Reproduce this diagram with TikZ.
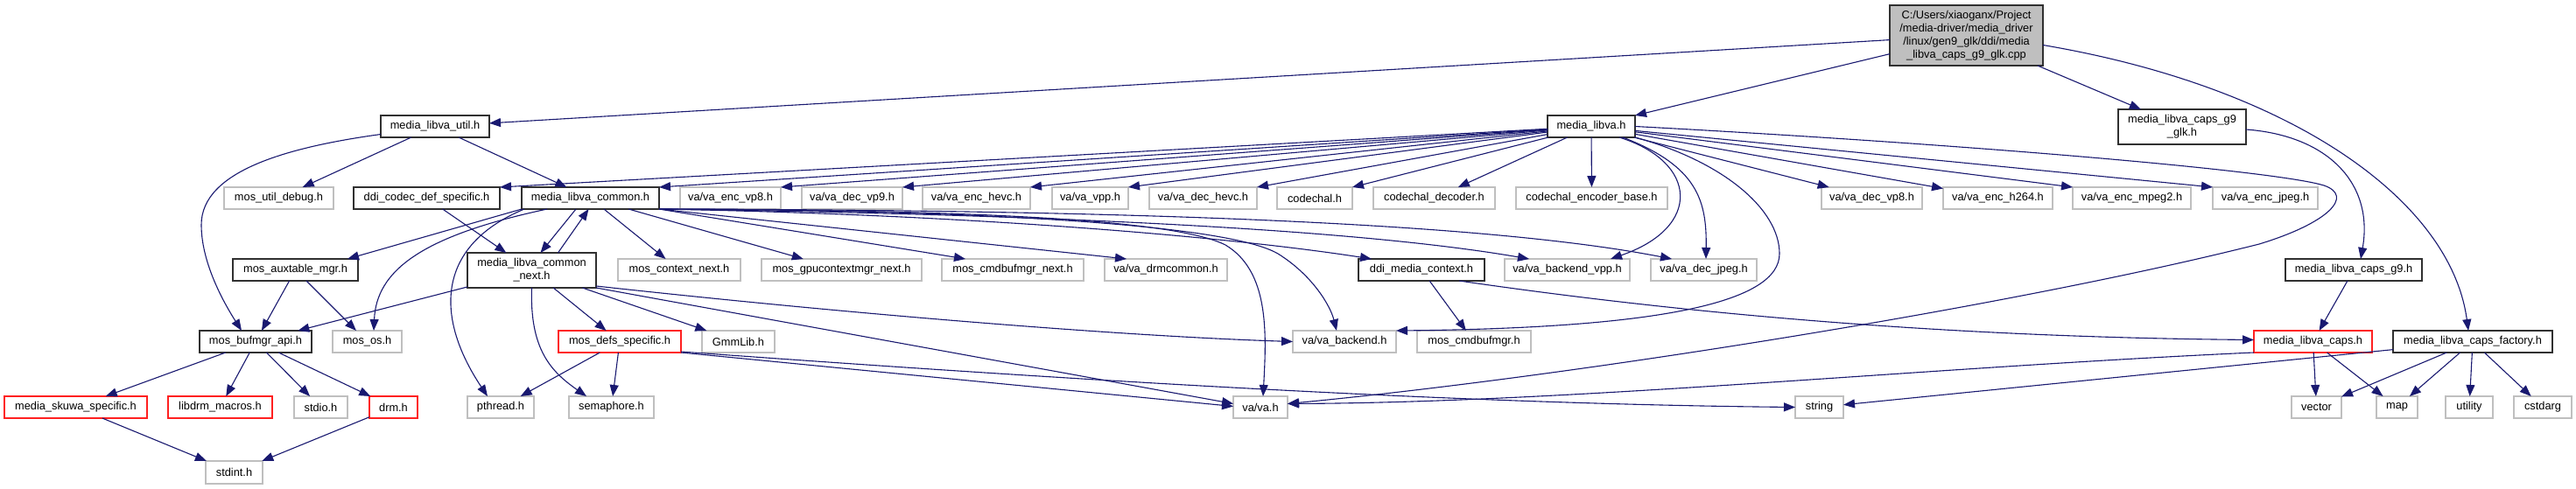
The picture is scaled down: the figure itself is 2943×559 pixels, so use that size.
\documentclass[tikz,border=0pt]{standalone}
\usepackage{fontspec}
\usetikzlibrary{arrows.meta}
\newfontfamily\gfont{Liberation Sans}
\definecolor{edgecol}{HTML}{191970}
\definecolor{greyseventyfive}{HTML}{BFBFBF}
\definecolor{nodered}{HTML}{FF2020}
\definecolor{nodeblack}{HTML}{303030}
\newcommand\gnode[7]{\node[#6, minimum width={(#4-#2)*1pt}, minimum height={(#5-#3)*1pt}] (#1) at ({(#2+#4)/2},{(#3+#5)/2}) {#7};}
\tikzset{
  gbase/.style={rectangle, inner sep=0pt, outer sep=0pt, line width=1.1pt, align=center,
    font=\gfont\fontsize{12.8pt}{14.8pt}\selectfont},
  blk/.style={gbase, draw=nodeblack},
  gry/.style={gbase, draw=greyseventyfive},
  rd/.style={gbase, draw=nodered},
  rootst/.style={gbase, draw=nodeblack, fill=greyseventyfive},
  edge/.style={draw=edgecol, line width=1.1pt, -{Triangle[length=13pt,width=10pt]}}
}
\begin{document}
\begin{tikzpicture}[x=1pt,y=-1pt]
\fill[white] (0,0) rectangle (2943,559);
\useasboundingbox (0,0) rectangle (2943,559);
% top
\gnode{root}{2159}{6}{2334}{75}{rootst}{C:/Users/xiaoganx/Project\\/media-driver/media\_driver\\/linux/gen9\_glk/ddi/media\\\_libva\_caps\_g9\_glk.cpp}
\gnode{util}{435}{132}{559}{157}{blk}{media\_libva\_util.h}
\gnode{libva}{1768}{132}{1868}{157}{blk}{media\_libva.h}
\gnode{g9glk}{2420}{125}{2566}{165}{blk}{media\_libva\_caps\_g9\\\_glk.h}
% row A
\gnode{dbg}{256}{214}{381}{239}{gry}{mos\_util\_debug.h}
\gnode{ddicodec}{404}{214}{571}{239}{blk}{ddi\_codec\_def\_specific.h}
\gnode{common}{596}{214}{753}{239}{blk}{media\_libva\_common.h}
\gnode{encvp8}{777}{214}{892}{239}{gry}{va/va\_enc\_vp8.h}
\gnode{decvp9}{916}{214}{1031}{239}{gry}{va/va\_dec\_vp9.h}
\gnode{enchevc}{1054}{214}{1177}{239}{gry}{va/va\_enc\_hevc.h}
\gnode{vpp}{1202}{214}{1289}{239}{gry}{va/va\_vpp.h}
\gnode{dechevc}{1313}{214}{1436}{239}{gry}{va/va\_dec\_hevc.h}
\gnode{codechal}{1459}{214}{1545}{239}{gry}{codechal.h}
\gnode{decoder}{1569}{214}{1708}{239}{gry}{codechal\_decoder.h}
\gnode{encbase}{1732}{214}{1905}{239}{gry}{codechal\_encoder\_base.h}
\gnode{decvp8}{2081}{214}{2196}{239}{gry}{va/va\_dec\_vp8.h}
\gnode{h264}{2220}{214}{2345}{239}{gry}{va/va\_enc\_h264.h}
\gnode{mpeg2}{2368}{214}{2503}{239}{gry}{va/va\_enc\_mpeg2.h}
\gnode{encjpeg}{2528}{214}{2648}{239}{gry}{va/va\_enc\_jpeg.h}
% row B
\gnode{aux}{266}{296}{409}{321}{blk}{mos\_auxtable\_mgr.h}
\gnode{next}{534}{289}{681}{329}{blk}{media\_libva\_common\\\_next.h}
\gnode{ctxnext}{706}{296}{846}{321}{gry}{mos\_context\_next.h}
\gnode{gpunext}{870}{296}{1053}{321}{gry}{mos\_gpucontextmgr\_next.h}
\gnode{cmdnext}{1076}{296}{1238}{321}{gry}{mos\_cmdbufmgr\_next.h}
\gnode{drmcommon}{1262}{296}{1402}{321}{gry}{va/va\_drmcommon.h}
\gnode{ddictx}{1552}{296}{1696}{321}{blk}{ddi\_media\_context.h}
\gnode{backendvpp}{1719}{296}{1862}{321}{gry}{va/va\_backend\_vpp.h}
\gnode{decjpeg}{1886}{296}{2007}{321}{gry}{va/va\_dec\_jpeg.h}
\gnode{capsg9}{2611}{296}{2767}{321}{blk}{media\_libva\_caps\_g9.h}
% row C
\gnode{bufmgr}{228}{378}{356}{403}{blk}{mos\_bufmgr\_api.h}
\gnode{os}{380}{378}{459}{403}{gry}{mos\_os.h}
\gnode{defs}{638}{378}{778}{403}{rd}{mos\_defs\_specific.h}
\gnode{gmm}{802}{378}{885}{403}{gry}{GmmLib.h}
\gnode{backend}{1477}{378}{1595}{403}{gry}{va/va\_backend.h}
\gnode{cmdbuf}{1619}{378}{1749}{403}{gry}{mos\_cmdbufmgr.h}
\gnode{caps}{2575}{378}{2710}{403}{rd}{media\_libva\_caps.h}
\gnode{factory}{2734}{378}{2916}{403}{blk}{media\_libva\_caps\_factory.h}
% row D
\gnode{skuwa}{5}{453}{168}{478}{rd}{media\_skuwa\_specific.h}
\gnode{libdrm}{192}{453}{311}{478}{rd}{libdrm\_macros.h}
\gnode{stdio}{336}{453}{397}{478}{gry}{stdio.h}
\gnode{drm}{422}{453}{477}{478}{rd}{drm.h}
\gnode{pthread}{534}{453}{610}{478}{gry}{pthread.h}
\gnode{sem}{650}{453}{747}{478}{gry}{semaphore.h}
\gnode{va}{1409}{453}{1471}{478}{gry}{va/va.h}
\gnode{string}{2051}{453}{2106}{478}{gry}{string}
\gnode{vector}{2618}{453}{2675}{478}{gry}{vector}
\gnode{map}{2715}{453}{2762}{478}{gry}{map}
\gnode{utility}{2794}{453}{2848}{478}{gry}{utility}
\gnode{cstdarg}{2872}{453}{2938}{478}{gry}{cstdarg}
% row E
\gnode{stdint}{235}{527}{300}{553}{gry}{stdint.h}

% edges from root
\draw[edge] (root) -- (util);
\draw[edge] (root) -- (libva.north east);
\draw[edge] (root) -- (g9glk);
\draw[edge] ([yshift=-11pt]root.east) .. controls (2620,100) and (2800,230) .. ([xshift=-5pt]factory.north);
% util
\draw[edge] (util) -- (dbg);
\draw[edge] (util) -- (common);
\draw[edge] ([yshift=-9pt]util.west) .. controls (330,168) and (230,195) .. (230,257) .. controls (230,300) and (255,345) .. ([xshift=-16pt]bufmgr.north);
% libva
\draw[edge] (libva) -- (ddicodec.north east);
\draw[edge] (libva) -- (common.north east);
\draw[edge] (libva) -- (encvp8.north east);
\draw[edge] (libva) -- (decvp9.north east);
\draw[edge] (libva) -- (enchevc.north east);
\draw[edge] (libva) -- (vpp.north east);
\draw[edge] (libva) -- (dechevc.north east);
\draw[edge] (libva) -- (codechal.north east);
\draw[edge] (libva) -- (decoder);
\draw[edge] (libva) -- (encbase);
\draw[edge] (libva) -- (decvp8);
\draw[edge] (libva) -- (h264);
\draw[edge] (libva) -- (mpeg2.north west);
\draw[edge] (libva) -- (encjpeg.north west);
\draw[edge] ([xshift=-18pt]libva.south east) .. controls (1940,185) and (1945,260) .. ([xshift=-22pt]backendvpp.north east);
\draw[edge] ([xshift=-14pt]libva.south east) .. controls (1940,190) and (1950,230) .. ([xshift=2.5pt]decjpeg.north);
\draw[edge] (libva.south east) .. controls (1970,185) and (2033,240) .. (2033,290) .. controls (2033,345) and (1900,375) .. (backend.north east);
\draw[edge] (libva.east) .. controls (2250,165) and (2600,195) .. (2655,212) .. controls (2690,224) and (2660,255) .. (2581,279) .. controls (2300,350) and (1800,430) .. ([yshift=4pt]va.east);
% common
\draw[edge] ([xshift=-16.5pt]common.south) -- ([xshift=10pt]next.north);
\draw[edge] ([xshift=30pt]next.north) -- ([xshift=-2pt]common.south);
\draw[edge] (common.south west) -- ([xshift=59.5pt]aux.north);
\draw[edge] ([xshift=29pt]common.south west) .. controls (480,270) and (430,310) .. ([xshift=7.5pt]os.north);
\draw[edge] ([xshift=3pt]common.south west) .. controls (500,280) and (495,360) .. ([xshift=-15pt]pthread.north);
\draw[edge] (common) -- (ctxnext);
\draw[edge] (common) -- (gpunext);
\draw[edge] (common.south east) -- ([xshift=27pt]cmdnext.north west);
\draw[edge] (common.south east) -- ([xshift=25pt]drmcommon.north west);
\draw[edge] (common.south east) .. controls (1100,245) and (1400,270) .. ([xshift=15pt]ddictx.north west);
\draw[edge] (common.south east) .. controls (1200,245) and (1550,262) .. ([xshift=28pt]backendvpp.north west);
\draw[edge] (common.south east) .. controls (1300,240) and (1700,255) .. ([xshift=24pt]decjpeg.north west);
\draw[edge] (common.south east) .. controls (1100,240) and (1400,255) .. (1460,290) .. controls (1500,315) and (1520,350) .. ([xshift=50pt]backend.north west);
\draw[edge] (common.south east) .. controls (1100,240) and (1340,250) .. (1400,280) .. controls (1450,310) and (1447,380) .. ([xshift=34pt]va.north west);
% ddicodec
\draw[edge] (ddicodec) -- (next);
% next
\draw[edge] (next) -- (bufmgr);
\draw[edge] (next) -- (defs);
\draw[edge] (next) -- (gmm);
\draw[edge] (next.south) .. controls (605,400) and (630,425) .. ([xshift=-28.5pt]sem.north);
\draw[edge] ([yshift=2pt]next.south east) .. controls (1000,362) and (1300,385) .. (backend.west);
\draw[edge] (next.south east) -- ([yshift=4pt]va.west);
% defs
\draw[edge] (defs) -- (pthread);
\draw[edge] (defs) -- (sem);
\draw[edge] (defs.south east) -- ([yshift=1pt]va.west);
\draw[edge] ([yshift=1pt]defs.south east) .. controls (1300,440) and (1700,462) .. (string.west);
% aux
\draw[edge] (aux) -- (bufmgr);
\draw[edge] (aux) -- (os);
% bufmgr
\draw[edge] (bufmgr) -- (skuwa);
\draw[edge] (bufmgr) -- (libdrm);
\draw[edge] (bufmgr) -- (stdio);
\draw[edge] (bufmgr) -- (drm);
\draw[edge] (skuwa) -- (stdint);
\draw[edge] (drm) -- (stdint);
% ddictx
\draw[edge] (ddictx) -- (cmdbuf);
\draw[edge] ([xshift=-29pt]ddictx.south east) .. controls (1900,355) and (2200,385) .. ([yshift=2pt]caps.west);
% caps
\draw[edge] ([yshift=-3pt]g9glk.east) .. controls (2660,155) and (2712,210) .. ([xshift=8pt]capsg9.north);
\draw[edge] (capsg9) -- (caps);
\draw[edge] (caps) -- (vector);
\draw[edge] (caps) -- (map);
\draw[edge] (caps.south west) .. controls (2200,420) and (1800,460) .. ([yshift=4pt]va.east);
% factory
\draw[edge] (factory) -- (vector);
\draw[edge] (factory) -- (map);
\draw[edge] (factory) -- (utility);
\draw[edge] (factory) -- (cstdarg);
\draw[edge] (factory) -- (string);
\end{tikzpicture}
\end{document}
